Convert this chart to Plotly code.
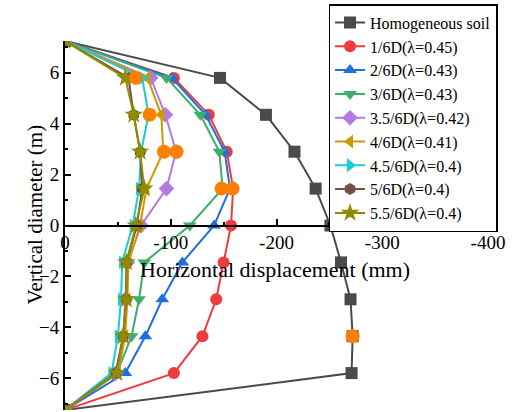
import plotly.graph_objects as go

# Depth positions along the vertical diameter (m)
depth = [7.25, 5.8, 4.35, 2.9, 1.45, 0, -1.45, -2.9, -4.35, -5.8, -7.25]

# Horizontal displacement (mm) for each case
homogeneous = [0, -146.6, -190, -217, -237, -251, -261, -270, -272, -271, 0]
d1_6 = [0, -103, -136, -153, -159, -157, -150, -143, -130, -103, 0]
d2_6 = [0, -101, -133, -151, -156, -141, -111, -92, -76, -57, 0]
d3_6 = [0, -96, -128, -146, -149, -118, -75, -70, -63, -49, 0]
d35_6 = [0, -81, -95, -105, -96, -72, -59, -57, -55, -48, 0]
d4_6 = [0, -78, -91, -93, -77, -71, -60, -59, -57, -50, 0]
d45_6 = [0, -73, -79, -72, -70, -64, -54, -53, -50, -44, 0]
d5_6 = [0, -60, -65, -71, -73, -68, -58, -58, -55, -48, 0]
d55_6 = [0, -57, -65, -71, -75, -67, -58, -58, -55, -49, 0]

names = ["Homogeneous soil", "1/6D(λ=0.45)", "2/6D(λ=0.43)", "3/6D(λ=0.43)",
         "3.5/6D(λ=0.42)", "4/6D(λ=0.41)", "4.5/6D(λ=0.4)", "5/6D(λ=0.4)",
         "5.5/6D(λ=0.4)"]
series = [homogeneous, d1_6, d2_6, d3_6, d35_6, d4_6, d45_6, d5_6, d55_6]
colors = ["#4a4a4a", "#ee3b3f", "#1f6fe0", "#3aaf6a", "#b57ae0", "#cc9a00",
          "#19cdd0", "#7a4c44", "#8f8c00"]
symbols = ["square", "circle", "triangle-up", "triangle-down", "diamond",
           "triangle-left", "triangle-right", "hexagon", "star"]

# Highlighted points
hl_x = [-67, -80, -93.5, -105.5, -148, -158.5, -272]
hl_y = [5.8, 4.35, 2.9, 2.9, 1.45, 1.45, -4.35]

fig = go.Figure()
for name, vals, c, s in zip(names, series, colors, symbols):
    fig.add_trace(go.Scatter(
        x=vals, y=depth, name=name, mode="lines+markers",
        line=dict(color=c, width=2),
        marker=dict(symbol=s, color=c, size=12 if s != "star" else 14,
                    line=dict(width=0)),
    ))

fig.add_trace(go.Scatter(
    x=hl_x, y=hl_y, mode="markers", showlegend=False,
    marker=dict(symbol="circle", color="#ff8000", size=14, line=dict(width=0)),
))

font = "Times New Roman, Liberation Serif, serif"
fig.update_layout(
    width=516, height=412,
    margin=dict(l=65, r=28, t=41, b=2, autoexpand=False),
    paper_bgcolor="white", plot_bgcolor="white",
    font=dict(family=font, color="black"),
    showlegend=True,
    legend=dict(
        x=0.623, y=1.1, xref="paper", yref="paper",
        xanchor="left", yanchor="top", maxheight=400,
        font=dict(family=font, size=16, color="black"),
        bordercolor="black", borderwidth=1.5, bgcolor="white",
        tracegroupgap=0, itemwidth=30,
    ),
    xaxis=dict(
        range=[0, -400], anchor="free", position=0.5,
        tickvals=[0, -100, -200, -300, -400],
        ticktext=["0", "-100", "-200", "-300", "-400"],
        ticks="inside", ticklen=6, tickwidth=1.5, tickcolor="black",
        minor=dict(dtick=50, ticks="inside", ticklen=3, tickwidth=1.5,
                   tickcolor="black"),
        showline=True, linecolor="black", linewidth=2,
        showgrid=False, zeroline=False,
        tickfont=dict(family=font, size=19),
    ),
    yaxis=dict(
        range=[-7.25, 7.25],
        tickvals=[-6, -4, -2, 0, 2, 4, 6],
        ticks="inside", ticklen=6, tickwidth=1.5, tickcolor="black",
        minor=dict(dtick=1, ticks="inside", ticklen=3, tickwidth=1.5,
                   tickcolor="black"),
        showline=True, linecolor="black", linewidth=2,
        showgrid=False, zeroline=False,
        tickfont=dict(family=font, size=19),
    ),
    annotations=[
        dict(text="Horizontal displacement (mm)", x=0.496, y=0.38,
             xref="paper", yref="paper", xanchor="center", yanchor="middle",
             showarrow=False, font=dict(family=font, size=22, color="black")),
        dict(text="Vertical diameter (m)", x=-0.071, y=0.53, textangle=-90,
             xref="paper", yref="paper", xanchor="center", yanchor="middle",
             showarrow=False, font=dict(family=font, size=21, color="black")),
    ],
)

fig.write_html("out.html")
